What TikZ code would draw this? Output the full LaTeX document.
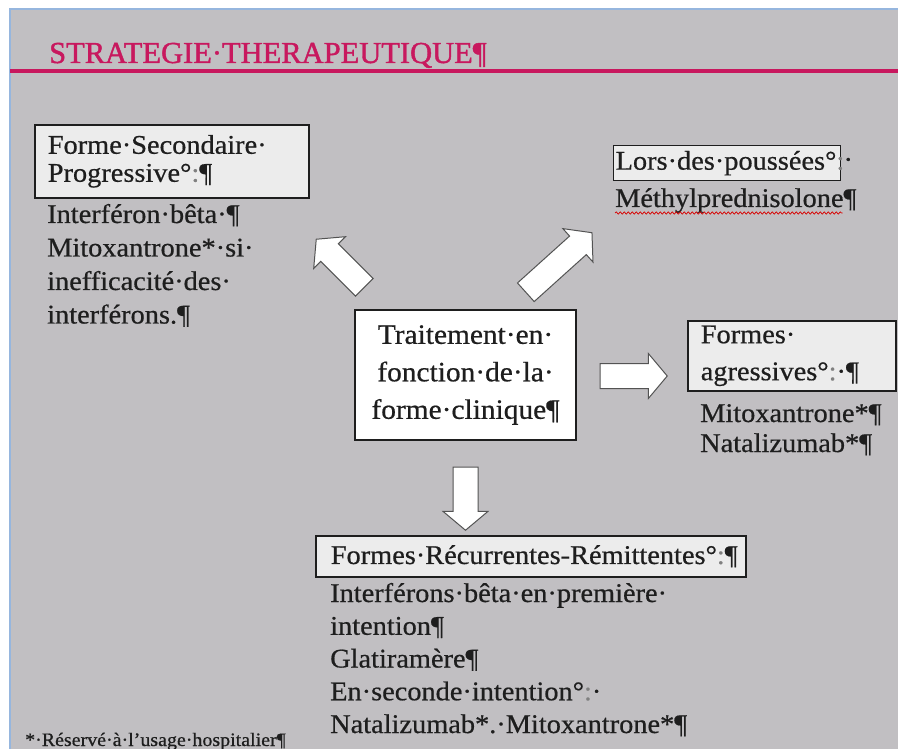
\documentclass[tikz,border=0pt]{standalone}
\usepackage{fontspec}
\setmainfont{Liberation Serif}[FakeStretch=1.05, FakeBold=0.6]
\newfontfamily\titlefont{Liberation Serif}[FakeStretch=1.0, FakeBold=1.4]
\usetikzlibrary{shapes.arrows,decorations.pathmorphing}

\definecolor{bggray}{RGB}{193,191,194}
\definecolor{boxgray}{RGB}{236,236,236}
\definecolor{titlered}{RGB}{200,24,94}
\definecolor{frameblue}{RGB}{150,182,222}
\definecolor{inkgray}{RGB}{30,30,30}
\newcommand{\faint}[1]{\textcolor{gray}{#1}}

\begin{document}
\begin{tikzpicture}[x=1pt, y=-1pt,
  headbox/.style={draw=inkgray, line width=1.6pt, fill=boxgray, anchor=north west, align=left, inner sep=0pt, text=inkgray},
  bodytext/.style={anchor=base west, align=left, inner sep=0pt, text=inkgray},
  blockarrow/.style={single arrow, draw=gray!65!black, fill=white, line width=1pt, inner xsep=0pt, inner ysep=12pt, single arrow head extend=10pt, single arrow tip angle=100}]

% Page and frame
\useasboundingbox (0,0) rectangle (898,749);
\fill[white] (0,0) rectangle (898,749);
\fill[bggray] (10,9) rectangle (898,749);
\draw[frameblue, line width=2pt] (10,749) -- (10,9) -- (898,9);

% Title
\node[anchor=base west, inner sep=0pt, text=titlered, font=\titlefont\fontsize{30.5}{31}\selectfont] (title) at (49,63) {STRATEGIE·THERAPEUTIQUE¶};
\draw[titlered, line width=4.5pt] (10,71) -- (898,71);

% Centre
\node[draw=inkgray, line width=1.4pt, fill=white, minimum width=221pt, minimum height=130pt, align=center, inner sep=0pt, text=inkgray, font=\fontsize{28}{37.5}\selectfont] (traitement) at (465.5,375) {Traitement·en·\\fonction·de·la·\\forme·clinique¶};

% Arrows
\node[blockarrow, minimum height=68pt, rotate=135] (arrfsp) at (344,267) {};
\node[blockarrow, minimum height=89pt, rotate=42] (arrlors) at (555,266) {};
\node[blockarrow, minimum height=67pt] (arragr) at (628.5,376) {};
\node[blockarrow, minimum height=63pt, rotate=-90] (arrrr) at (465.5,493.5) {};

% Forme secondaire progressive
\node[headbox, text width=248pt, inner xsep=13pt, minimum height=73pt, font=\fontsize{27}{28}\selectfont] (fsp) at (34,124) {Forme·Secondaire·\\Progressive°\faint{:}¶};
\node[bodytext, text width=260pt, font=\fontsize{27}{33.5}\selectfont] (fspbody) at (47,223) {Interféron·bêta·¶\\Mitoxantrone*·si·\\inefficacité·des·\\interférons.¶};

% Lors des poussees
\node[headbox, line width=1.3pt, text width=223pt, inner xsep=2pt, minimum height=35pt, font=\fontsize{27}{28}\selectfont] (lors) at (613,145) {Lors·des·poussées°\faint{:}};
\node[inner sep=0pt, anchor=west, text=inkgray, font=\fontsize{27}{28}\selectfont] (lorsdot) at ([xshift=2pt]lors.east) {·};
\node[bodytext, font=\fontsize{27}{28}\selectfont] (methyl) at (615,207) {Méthylprednisolone¶};
\draw[red!85!black, line width=0.7pt, decorate, decoration={snake, amplitude=1.2pt, segment length=4pt}] ([yshift=-6pt]methyl.base west) -- ([xshift=-14pt,yshift=-6pt]methyl.base east);

% Formes agressives
\node[headbox, text width=182pt, inner xsep=13pt, minimum height=70pt, font=\fontsize{27}{37}\selectfont] (agressives) at (687,320) {Formes·\\agressives°\faint{:}·¶};
\node[bodytext, text width=190pt, font=\fontsize{27}{30}\selectfont] (agrbody) at (700,422) {Mitoxantrone*¶\\Natalizumab*¶};

% Formes recurrentes remittentes
\node[headbox, text width=430pt, minimum height=41pt, font=\fontsize{27}{28}\selectfont] (rr) at (315,535) {\hspace*{15pt}Formes·Récurrentes-Rémittentes°\faint{:}¶};
\node[bodytext, text width=420pt, font=\fontsize{27}{32.75}\selectfont] (rrbody) at (330,602) {Interférons·bêta·en·première·\\intention¶\\Glatiramère¶\\En·seconde·intention°\faint{:}·\\Natalizumab*.·Mitoxantrone*¶};

% Footnote
\node[bodytext, font=\fontsize{19}{19}\selectfont] (note) at (25,746) {*·Réservé·à·l'usage·hospitalier¶};

\end{tikzpicture}
\end{document}
